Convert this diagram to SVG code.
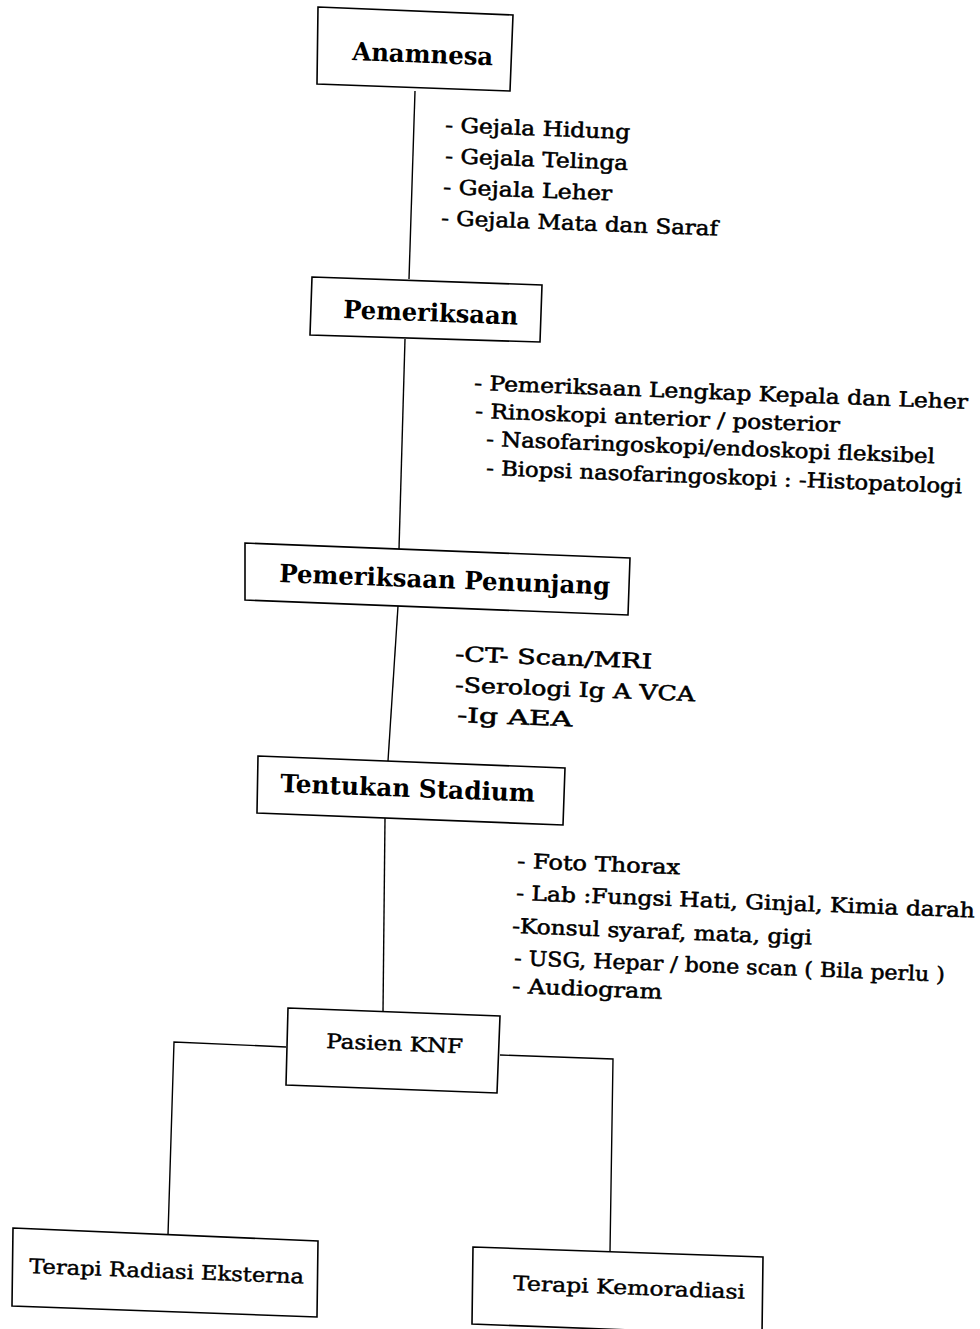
<svg xmlns="http://www.w3.org/2000/svg" width="980" height="1329" viewBox="0 0 980 1329">
<style>
.box{fill:#fff;stroke:#000;stroke-width:1.6}
.con{fill:none;stroke:#000;stroke-width:1.4}
.t{font-family:"DejaVu Serif","Liberation Serif",serif;fill:#000}
.title{font-size:25px;font-weight:bold}
.lst{font-size:20.5px;stroke:#000;stroke-width:0.55}
.sm{font-size:20px;stroke:#000;stroke-width:0.45}
</style>
<rect width="980" height="1329" fill="#fff"/>
<g id="connectors">
<polyline class="con" points="415,91 409,279"/>
<polyline class="con" points="405,339 399,549"/>
<polyline class="con" points="398,606 388,761"/>
<polyline class="con" points="385,818 383,1012"/>
<polyline class="con" points="286,1047 174,1042 168,1235"/>
<polyline class="con" points="500,1055 613,1059 610,1252"/>
</g>
<g id="anamnesa">
<polygon class="box" points="318,7 513,15 510,91 317,84"/>
<text class="t title" x="352" y="60" textLength="141" lengthAdjust="spacingAndGlyphs" transform="rotate(2.2 352 60)">Anamnesa</text>
</g>
<g id="anamnesa-list">
<text class="t lst" x="445" y="132" textLength="185" lengthAdjust="spacingAndGlyphs" transform="rotate(2.2 445 132)">- Gejala Hidung</text>
<text class="t lst" x="445" y="163" textLength="183" lengthAdjust="spacingAndGlyphs" transform="rotate(2.2 445 163)">- Gejala Telinga</text>
<text class="t lst" x="443" y="194" textLength="169" lengthAdjust="spacingAndGlyphs" transform="rotate(2.2 443 194)">- Gejala Leher</text>
<text class="t lst" x="441" y="225" textLength="277" lengthAdjust="spacingAndGlyphs" transform="rotate(2.2 441 225)">- Gejala Mata dan Saraf</text>
</g>
<g id="pemeriksaan">
<polygon class="box" points="312,277 542,285 540,342 310,335"/>
<text class="t title" x="343" y="318" textLength="175" lengthAdjust="spacingAndGlyphs" transform="rotate(2.2 343 318)">Pemeriksaan</text>
</g>
<g id="pemeriksaan-list">
<text class="t lst" x="474" y="390" textLength="494" lengthAdjust="spacingAndGlyphs" transform="rotate(2.2 474 390)">-  Pemeriksaan Lengkap Kepala dan Leher</text>
<text class="t lst" x="475" y="418" textLength="365" lengthAdjust="spacingAndGlyphs" transform="rotate(2.2 475 418)">-  Rinoskopi anterior / posterior</text>
<text class="t lst" x="486" y="446" textLength="449" lengthAdjust="spacingAndGlyphs" transform="rotate(2.2 486 446)">- Nasofaringoskopi/endoskopi  fleksibel</text>
<text class="t lst" x="486" y="475" textLength="476" lengthAdjust="spacingAndGlyphs" transform="rotate(2.2 486 475)">- Biopsi nasofaringoskopi : -Histopatologi</text>
</g>
<g id="penunjang">
<polygon class="box" points="245,543 630,558 628,615 245,600"/>
<text class="t title" x="279" y="582" textLength="331" lengthAdjust="spacingAndGlyphs" transform="rotate(2.2 279 582)">Pemeriksaan Penunjang</text>
</g>
<g id="penunjang-list">
<text class="t lst" x="455" y="661" textLength="197" lengthAdjust="spacingAndGlyphs" transform="rotate(2.2 455 661)">-CT- Scan/MRI</text>
<text class="t lst" x="455" y="692" textLength="240" lengthAdjust="spacingAndGlyphs" transform="rotate(2.2 455 692)">-Serologi Ig A VCA</text>
<text class="t lst" x="457" y="722" textLength="115" lengthAdjust="spacingAndGlyphs" transform="rotate(2.2 457 722)">-Ig AEA</text>
</g>
<g id="stadium">
<polygon class="box" points="258,756 565,768 563,825 257,813"/>
<text class="t title" x="280" y="792" textLength="255" lengthAdjust="spacingAndGlyphs" transform="rotate(2.2 280 792)">Tentukan Stadium</text>
</g>
<g id="stadium-list">
<text class="t lst" x="517" y="868" textLength="163" lengthAdjust="spacingAndGlyphs" transform="rotate(2.2 517 868)">- Foto Thorax</text>
<text class="t lst" x="516" y="900" textLength="459" lengthAdjust="spacingAndGlyphs" transform="rotate(2.2 516 900)">- Lab :Fungsi Hati, Ginjal, Kimia darah</text>
<text class="t lst" x="512" y="933" textLength="300" lengthAdjust="spacingAndGlyphs" transform="rotate(2.2 512 933)">-Konsul syaraf, mata, gigi</text>
<text class="t lst" x="514" y="965" textLength="431" lengthAdjust="spacingAndGlyphs" transform="rotate(2.2 514 965)">- USG, Hepar / bone scan ( Bila perlu )</text>
<text class="t lst" x="512" y="993" textLength="150" lengthAdjust="spacingAndGlyphs" transform="rotate(2.2 512 993)">- Audiogram</text>
</g>
<g id="pasien">
<polygon class="box" points="288,1008 500,1016 497,1093 286,1085"/>
<text class="t sm" x="326" y="1048" textLength="137" lengthAdjust="spacingAndGlyphs" transform="rotate(2.2 326 1048)">Pasien KNF</text>
</g>
<g id="radiasi">
<polygon class="box" points="13,1228 318,1241 317,1317 12,1306"/>
<text class="t sm" x="29" y="1273" textLength="275" lengthAdjust="spacingAndGlyphs" transform="rotate(2.2 29 1273)">Terapi Radiasi Eksterna</text>
</g>
<g id="kemoradiasi">
<polygon class="box" points="473,1247 763,1257 762,1335 472,1324"/>
<text class="t sm" x="513" y="1290" textLength="232" lengthAdjust="spacingAndGlyphs" transform="rotate(2.2 513 1290)">Terapi Kemoradiasi</text>
</g>
</svg>
